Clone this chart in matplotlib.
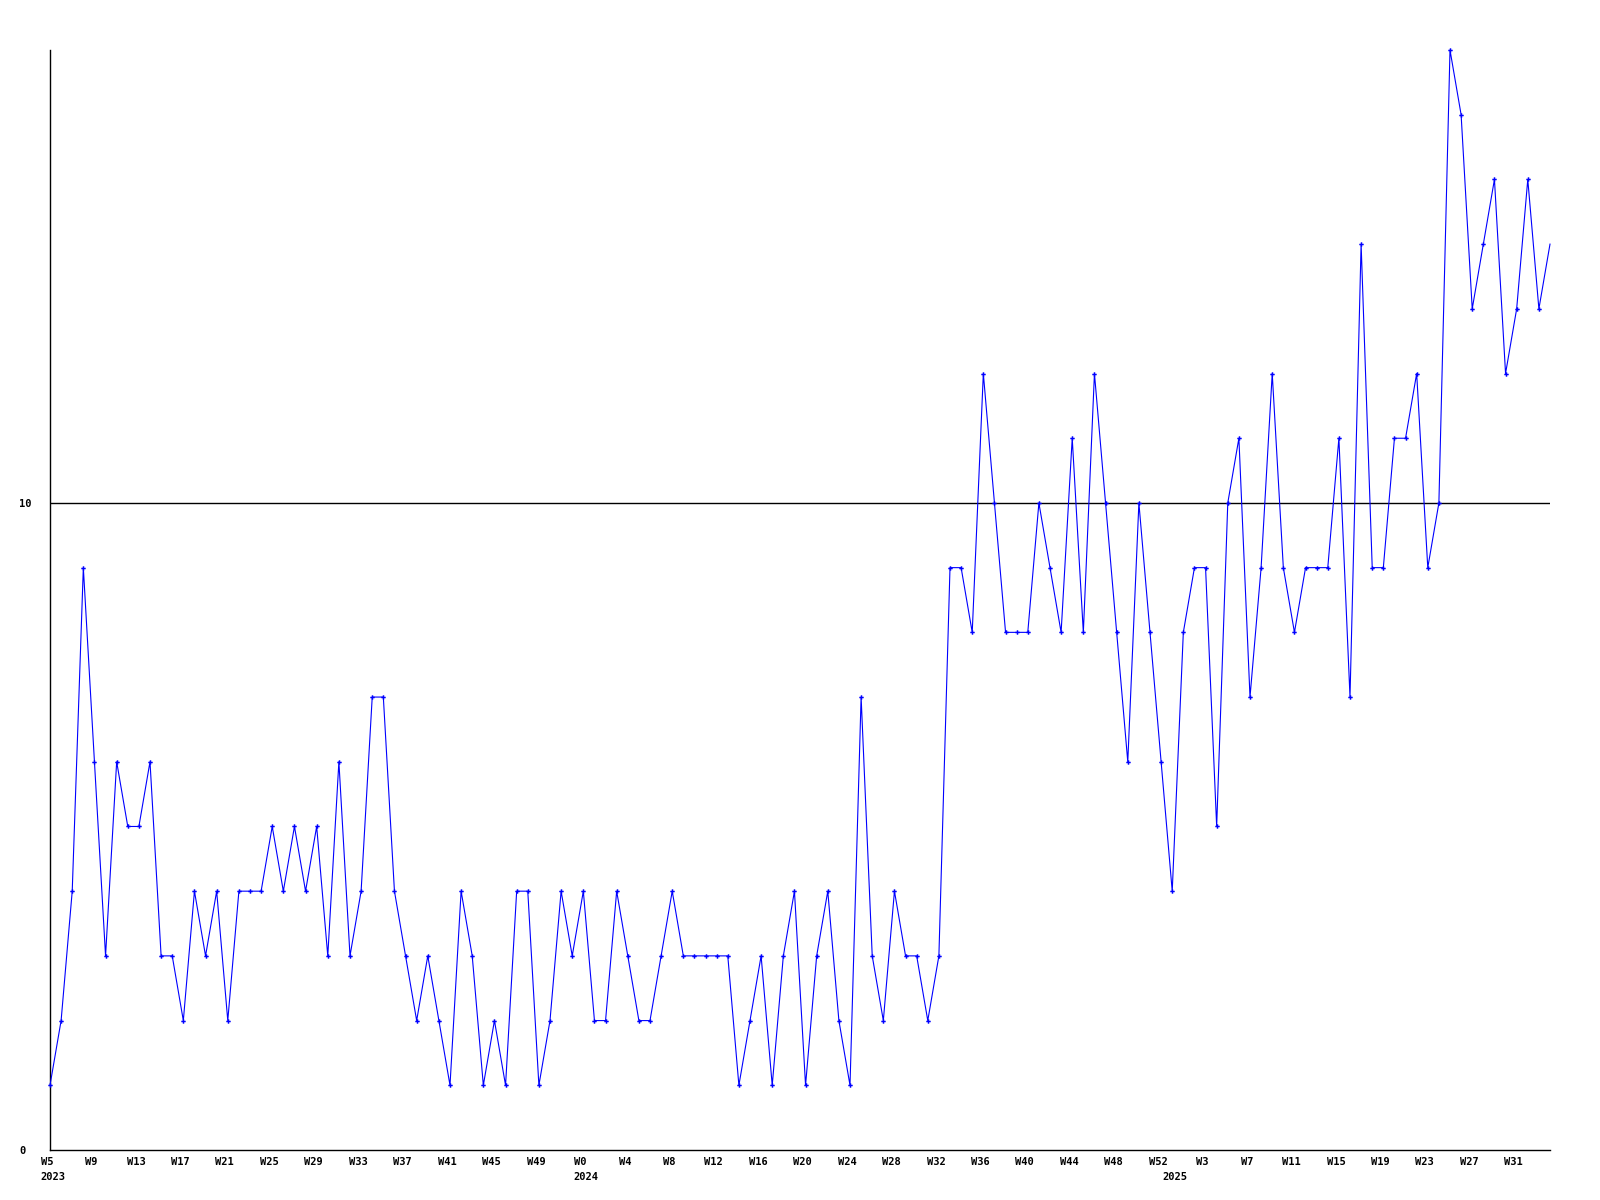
import matplotlib
matplotlib.use("Agg")
import matplotlib.pyplot as plt
from matplotlib.transforms import ScaledTranslation

# weekly counts, 2023 W5 .. 2025 W34
counts = [1, 2, 4, 9, 6, 3, 6, 5, 5, 6, 3, 3, 2, 4, 3, 4, 2, 4, 4, 4,
          5, 4, 5, 4, 5, 3, 6, 3, 4, 7, 7, 4, 3, 2, 3, 2, 1, 4, 3, 1,
          2, 1, 4, 4, 1, 2, 4, 3, 4, 2, 2, 4, 3, 2, 2, 3, 4, 3, 3, 3,
          3, 3, 1, 2, 3, 1, 3, 4, 1, 3, 4, 2, 1, 7, 3, 2, 4, 3, 3, 2,
          3, 9, 9, 8, 12, 10, 8, 8, 8, 10, 9, 8, 11, 8, 12, 10, 8, 6, 10, 8,
          6, 4, 8, 9, 9, 5, 10, 11, 7, 9, 12, 9, 8, 9, 9, 9, 11, 7, 14, 9,
          9, 11, 11, 12, 9, 10, 17, 16, 13, 14, 15, 12, 13, 15, 13, 14]

week_labels = ["W5", "W9", "W13", "W17", "W21", "W25", "W29", "W33", "W37",
               "W41", "W45", "W49", "W0", "W4", "W8", "W12", "W16", "W20",
               "W24", "W28", "W32", "W36", "W40", "W44", "W48", "W52", "W3",
               "W7", "W11", "W15", "W19", "W23", "W27", "W31"]
year_labels = ["2023", "2024", "2025"]
year_start = [0, 48, 101]

font = dict(family="DejaVu Sans Mono", weight="bold", size=7.5)

fig = plt.figure(figsize=(16, 12), dpi=100)
ax = fig.add_axes([50 / 1600, 50 / 1200, 1500 / 1600, 1100 / 1200])

x = list(range(len(counts)))
ax.axhline(10, color="black", lw=1, zorder=1)
# last (current) week is drawn without a marker
ax.plot(x, counts, color="#0000ff", lw=0.8, marker="P", ms=3.2, mew=0,
        markevery=slice(0, len(counts) - 1), zorder=3, clip_on=False)

ax.set_xlim(0, len(counts) - 1)
ax.set_ylim(0, 17)
for s in ["top", "right"]:
    ax.spines[s].set_visible(False)
for s in ["left", "bottom"]:
    ax.spines[s].set_linewidth(1)

ax.set_xticks(range(0, 4 * len(week_labels), 4))
ax.set_xticklabels(week_labels, **font)
ax.tick_params(axis="x", length=0, pad=5)
shift = ScaledTranslation(-3 / 100, 0, fig.dpi_scale_trans)
for lab in ax.get_xticklabels():
    lab.set_transform(lab.get_transform() + shift)

ax.set_yticks([0, 10])
ax.set_yticklabels(["0", "10"], **font)
ax.tick_params(axis="y", length=0, pad=22.3)
for lab in ax.get_yticklabels():
    lab.set_ha("left")

for xs, yr in zip(year_start, year_labels):
    ax.annotate(yr, xy=(xs, 0), xycoords=("data", "axes fraction"),
                xytext=(2, -19.5), textcoords="offset points",
                ha="center", va="center", **font)

fig.savefig("out.png", dpi=100)
